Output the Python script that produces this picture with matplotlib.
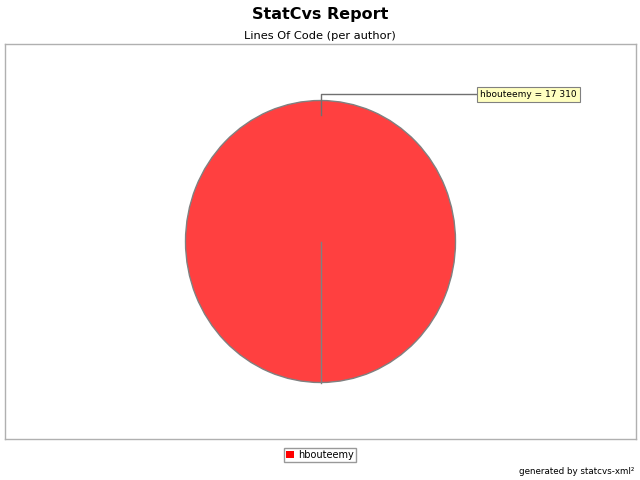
import matplotlib
matplotlib.use("Agg")
import matplotlib.pyplot as plt
from matplotlib.patches import Patch
import numpy as np

AUTHORS = ["hbouteemy"]
LINES = [17310]
COLORS = ["#ff4040"]
TITLE = "StatCvs Report"
SUBTITLE = "Lines Of Code (per author)"
FOOTER = "generated by statcvs-xml\u00b2"
START = -90

W, H = 640, 480
fig = plt.figure(figsize=(W / 100, H / 100), dpi=100)
fig.patch.set_facecolor("white")

# plot area in pixels: left 5, top 44, right 636, bottom 439
x0, y0, x1, y1 = 5, 44, 636, 439
ax = fig.add_axes([x0 / W, 1 - y1 / H, (x1 - x0) / W, (y1 - y0) / H])

rx, ry = 135, 141  # pie radii in pixels
ax.pie(LINES, colors=COLORS, startangle=START, counterclock=True,
       wedgeprops=dict(edgecolor="#808080", linewidth=1))
ax.set_aspect("auto")
ax.set_xlim(-(x1 - x0) / 2 / rx, (x1 - x0) / 2 / rx)
ax.set_ylim(-(y1 - y0) / 2 / ry, (y1 - y0) / 2 / ry)
ax.set_axis_on()
ax.set_frame_on(True)
ax.set_xticks([])
ax.set_yticks([])
for s in ax.spines.values():
    s.set_visible(True)
    s.set_color("#b0b0b0")
    s.set_linewidth(1)

# radial edge of the single full wedge
a0 = np.deg2rad(START)
ax.plot([0, np.cos(a0)], [0, np.sin(a0)], color="#808080", lw=1)

# label with leader line at the wedge mid angle
mid = np.deg2rad(START + 180)
r_in, r_out = 0.894, 1.043
ax.plot([r_in * np.cos(mid), r_out * np.cos(mid), 1.163],
        [r_in * np.sin(mid), r_out * np.sin(mid), r_out * np.sin(mid)],
        color="#707070", lw=1)
label = f"{AUTHORS[0]} = {LINES[0]:,}".replace(",", " ")
ax.text(1.163 + 0.02, r_out * np.sin(mid), label, ha="left", va="center", fontsize=6.5,
        bbox=dict(boxstyle="square,pad=0.3", fc="#ffffc0", ec="#808080", lw=0.8))

fig.text(0.5, 1 - 15 / H, TITLE, ha="center", va="center",
         fontsize=11.5, fontweight="bold")
fig.text(0.5, 1 - 36 / H, SUBTITLE, ha="center", va="center", fontsize=8.2)

fig.legend(handles=[Patch(facecolor="#ff0000", edgecolor="none", label=AUTHORS[0])],
           loc="center", bbox_to_anchor=(320 / W, 1 - 455 / H), fontsize=7,
           frameon=True, fancybox=False, edgecolor="#808080", handlelength=0.8,
           handleheight=0.8, handletextpad=0.4, borderpad=0.25, borderaxespad=0)

fig.text(634 / W, 1 - 471 / H, FOOTER, ha="right", va="center", fontsize=6.3)

fig.savefig("out.png", dpi=100, facecolor="white")
